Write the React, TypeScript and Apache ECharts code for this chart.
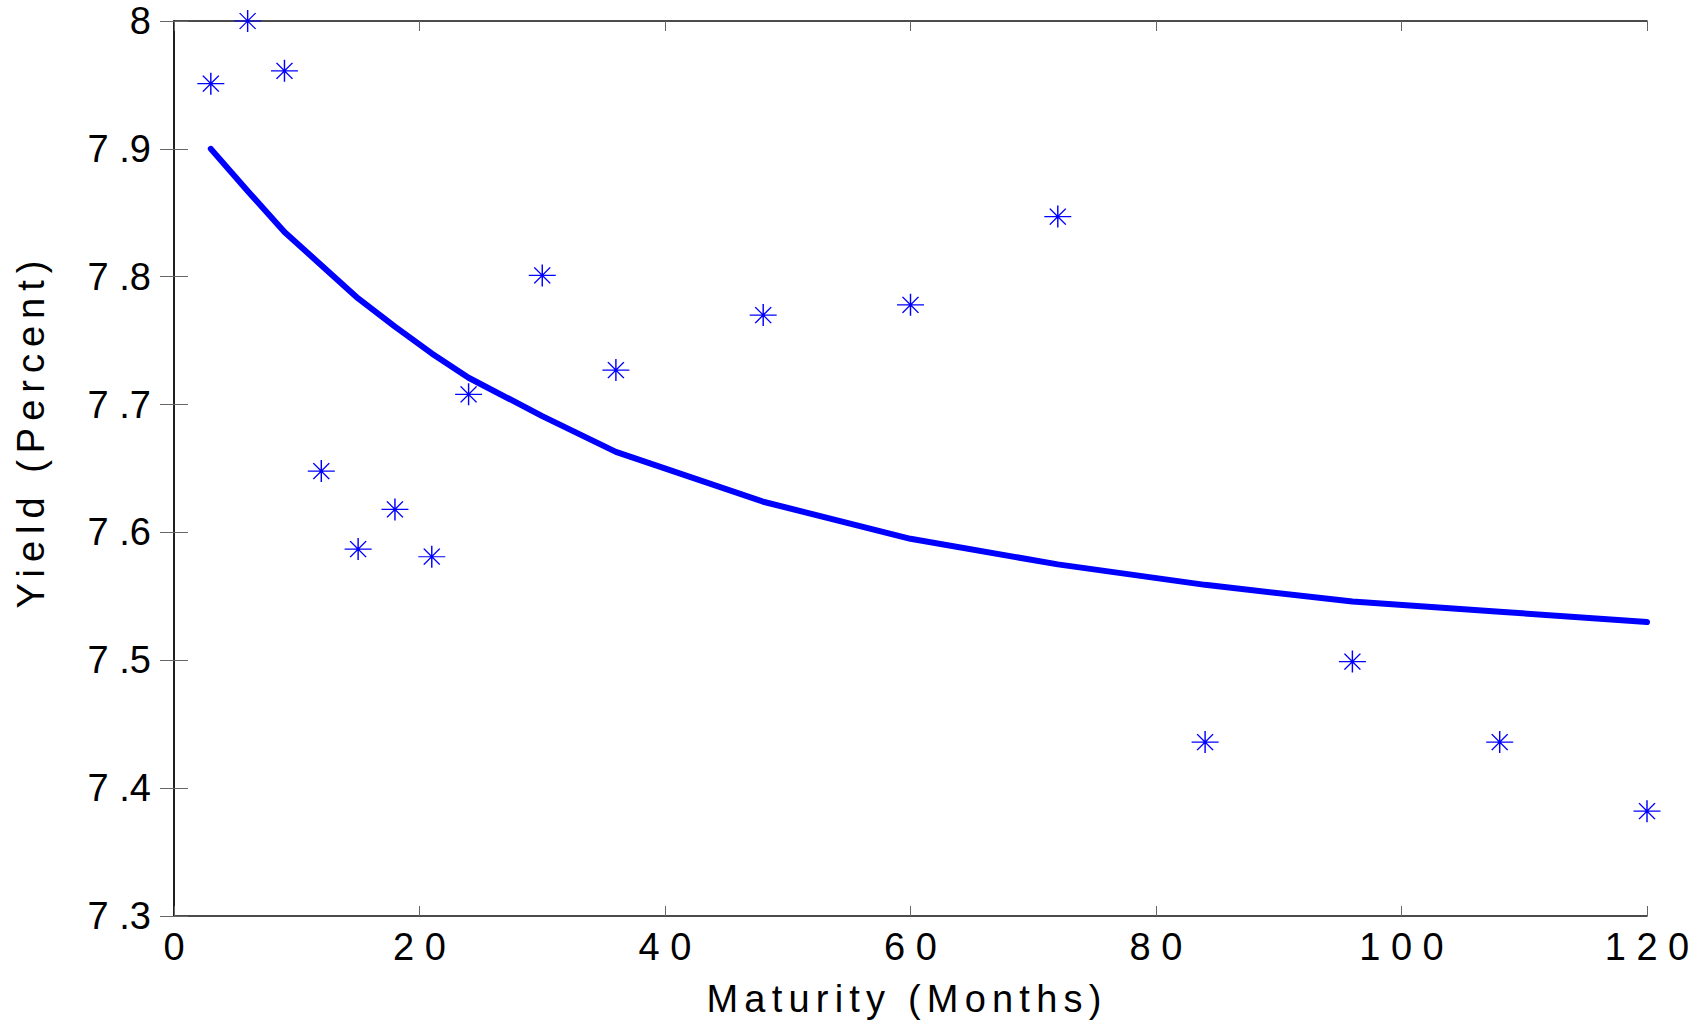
import React, { useEffect, useRef } from "react";
import * as echarts from "echarts";

const maturities = [3, 6, 9, 12, 15, 18, 21, 24, 30, 36, 48, 60, 72, 84, 96, 108, 120];
const observedYield = [7.951, 8.0, 7.961, 7.648, 7.587, 7.618, 7.581, 7.708, 7.801, 7.727, 7.77, 7.778, 7.847, 7.436, 7.499, 7.436, 7.382];
const fittedYield = [7.9, 7.867, 7.835, 7.809, 7.783, 7.761, 7.74, 7.721, 7.691, 7.663, 7.624, 7.595, 7.575, 7.559, 7.546, 7.538, 7.53];

const xTitle = "Maturity (Months)";
const yTitle = "Yield (Percent)";

const FONT = '"Liberation Sans", Arial, sans-serif';
const BLUE = "#0000ff";
const STAR = "path://M0 11L27 11M13.5 0L13.5 22M5.5 3L21.5 19M21.5 3L5.5 19";

const fmtY = (v: number) => {
  const s = v.toFixed(1);
  if (s.endsWith(".0")) return s.slice(0, -2);
  return s.replace(".", " .");
};
const fmtX = (v: number) => String(Math.round(v)).split("").join(" ");

export default function App() {
  const ref = useRef<HTMLDivElement>(null);
  useEffect(() => {
    if (!ref.current) return;
    const el = ref.current;
    const chart = echarts.init(el, undefined, { renderer: "svg" });
    const axisLine = { show: true, lineStyle: { color: "#111", width: 1.5 } };
    const xBase = {
      type: "value" as const,
      min: 0,
      max: 120,
      interval: 20,
      splitLine: { show: false },
      axisLine,
      axisTick: { show: true, inside: true, length: 10, lineStyle: { color: "#666", width: 1 } },
    };
    const yBase = {
      type: "value" as const,
      min: 7.3,
      max: 8,
      interval: 0.1,
      splitLine: { show: false },
      axisLine,
      axisTick: { show: true, inside: true, length: 14, lineStyle: { color: "#666", width: 1 } },
    };
    chart.setOption({
      animation: false,
      backgroundColor: "#ffffff",
      grid: { left: 174, right: 53, top: 21, bottom: 108, containLabel: false },
      xAxis: [
        {
          ...xBase,
          position: "bottom",
          axisLabel: { formatter: fmtX, fontSize: 38, fontFamily: FONT, color: "#000", margin: 12 },
        },
        { ...xBase, position: "top", axisLabel: { show: false } },
      ],
      yAxis: [
        {
          ...yBase,
          position: "left",
          axisLabel: { formatter: fmtY, fontSize: 38, fontFamily: FONT, color: "#000", margin: 23 },
        },
        { ...yBase, position: "right", axisLabel: { show: false } },
      ],
      graphic: [
        {
          type: "text",
          x: 907,
          y: 999,
          silent: true,
          style: {
            text: xTitle,
            fontSize: 38,
            fontFamily: FONT,
            fill: "#000",
            textAlign: "center",
            textVerticalAlign: "middle",
          },
        },
        {
          type: "text",
          x: 31,
          y: 431,
          rotation: Math.PI / 2,
          silent: true,
          style: {
            text: yTitle,
            fontSize: 38,
            fontFamily: FONT,
            fill: "#000",
            textAlign: "center",
            textVerticalAlign: "middle",
          },
        },
      ],
      series: [
        {
          type: "line",
          xAxisIndex: 0,
          yAxisIndex: 0,
          data: maturities.map((m, i) => [m, fittedYield[i]]),
          showSymbol: false,
          symbol: "none",
          lineStyle: { color: BLUE, width: 6, cap: "round", join: "round" },
          clip: false,
          z: 2,
        },
        {
          type: "scatter",
          xAxisIndex: 0,
          yAxisIndex: 0,
          data: maturities.map((m, i) => [m, observedYield[i]]),
          symbol: STAR,
          symbolSize: [27, 22],
          itemStyle: { color: "transparent", borderColor: BLUE, borderWidth: 1.3, opacity: 1 },
          clip: false,
          z: 3,
        },
      ],
    });
    const spacing = () => {
      el.querySelectorAll("text").forEach((t) => {
        const c = t.textContent || "";
        if (c === xTitle) t.setAttribute("letter-spacing", "6.2");
        if (c === yTitle) t.setAttribute("letter-spacing", "7");
      });
    };
    spacing();
    chart.on("finished", spacing);
    const tm = setTimeout(spacing, 30);
    return () => {
      clearTimeout(tm);
      chart.dispose();
    };
  }, []);
  return (
    <div
      ref={ref}
      style={{ position: "fixed", left: 0, top: 0, width: 1700, height: 1024, background: "#fff" }}
    />
  );
}
